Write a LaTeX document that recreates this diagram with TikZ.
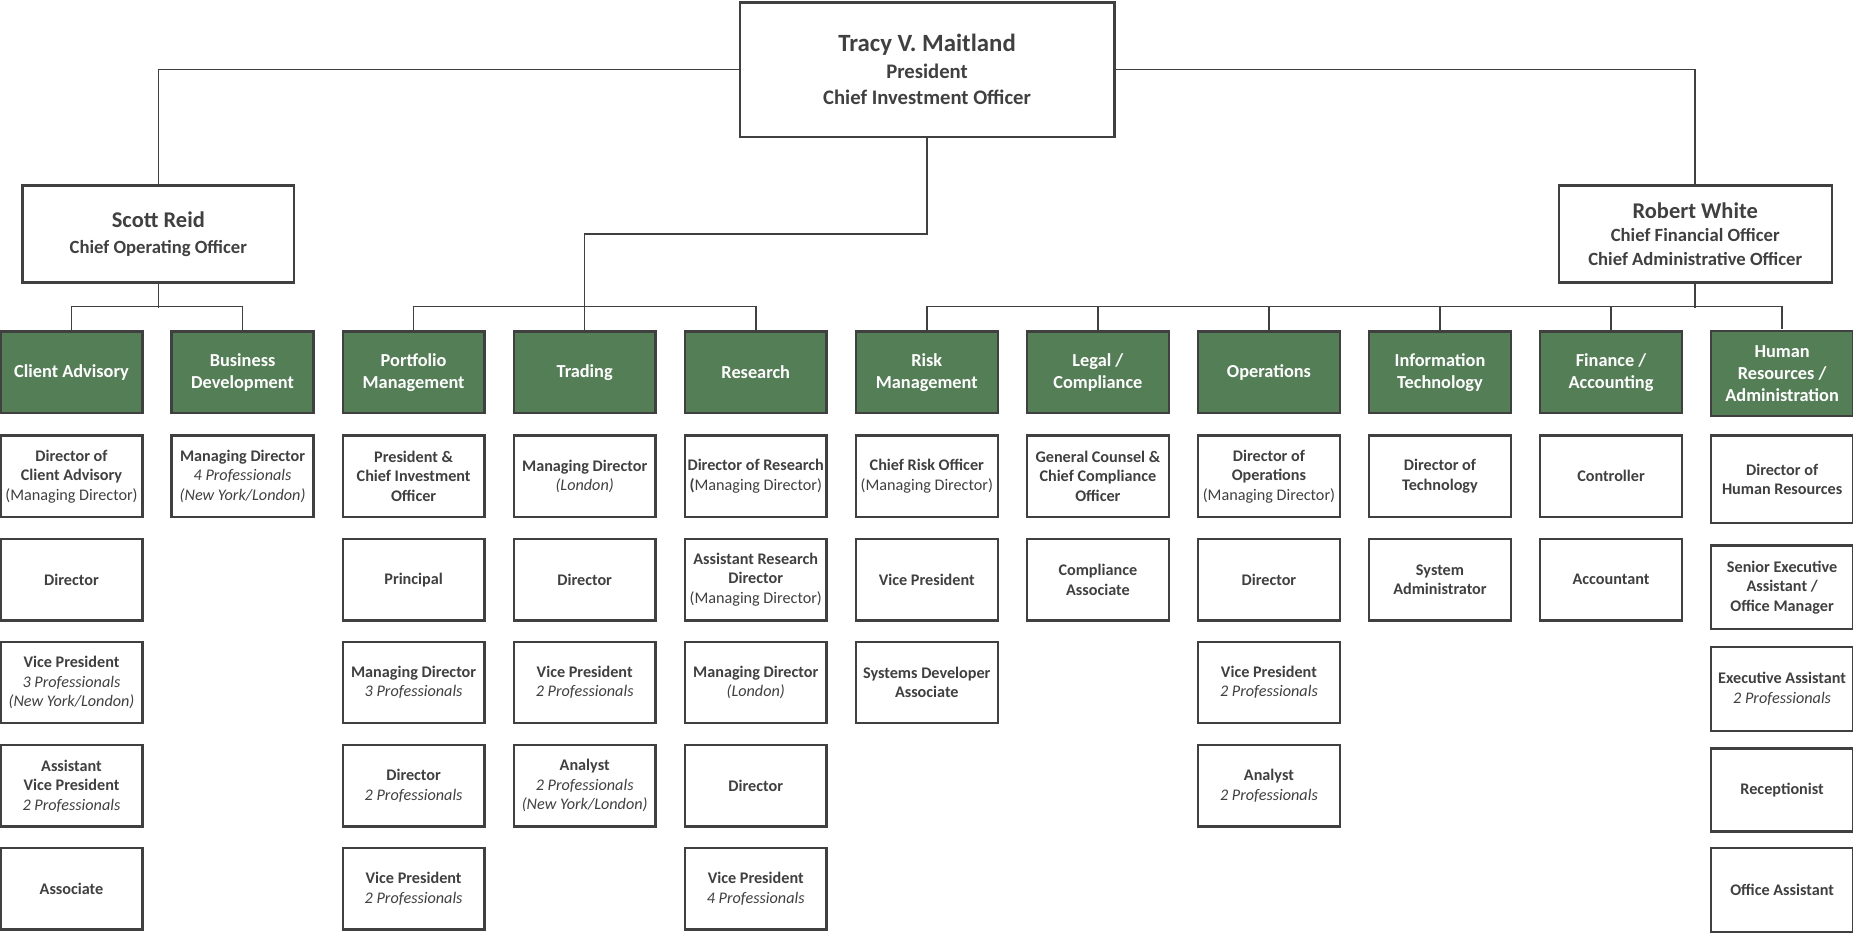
\documentclass[tikz,border=0pt]{standalone}
\usepackage{fontspec}
\setmainfont{Carlito}
\definecolor{ink}{HTML}{404040}
\definecolor{grn}{HTML}{547E55}
\newcommand{\profl}[1]{{\mdseries\itshape #1}}
\newcommand{\regl}[1]{{\mdseries #1}}
\tikzset{
  conn/.style={draw=ink, line width=1.3pt},
  execbox/.style={draw=ink, line width=2pt, fill=white, text=ink, align=center, inner sep=0pt},
  dept/.style={draw=ink, line width=2pt, fill=grn, text=white, align=center, minimum width=120pt, minimum height=69pt, inner sep=0pt, font=\fontsize{15.5}{18.5}\selectfont\bfseries},
  posbox/.style={draw=ink, line width=2pt, fill=white, text=ink, align=center, minimum width=120pt, minimum height=69pt, inner sep=0pt, font=\fontsize{13.7}{16.5}\selectfont\bfseries},
}
\begin{document}
\begin{tikzpicture}[x=1pt,y=-1pt]
\useasboundingbox (0,0) rectangle (1568,790);
\fill[white] (0,0) rectangle (1568,790);

% executives
\node[execbox, minimum width=317pt, minimum height=114pt, font=\fontsize{17.5}{22.5}\selectfont\bfseries] (tracy) at (784.5,59)
  {{\fontsize{21}{22.5}\selectfont Tracy V. Maitland}\\President\\Chief Investment Officer};
\node[execbox, minimum width=230pt, minimum height=82pt, font=\fontsize{15.8}{22}\selectfont\bfseries] (scott) at (134,198)
  {{\fontsize{19}{22}\selectfont Scott Reid}\\Chief Operating Officer};
\node[execbox, minimum width=231pt, minimum height=82pt, font=\fontsize{15.8}{20}\selectfont\bfseries] (robert) at (1434.5,198)
  {{\fontsize{19}{20}\selectfont Robert White}\\Chief Financial Officer\\Chief Administrative Officer};

% departments
\node[dept] (ca)  at (60.5,315)   {Client Advisory};
\node[dept] (bd)  at (205.25,315) {Business\\Development};
\node[dept] (pm)  at (350,315)    {Portfolio\\Management};
\node[dept] (tr)  at (494.75,315) {Trading};
\node[dept] (re)  at (639.5,315)  {Research};
\node[dept] (rm)  at (784.25,315) {Risk\\Management};
\node[dept] (lc)  at (929,315)    {Legal /\\Compliance};
\node[dept] (op)  at (1073.75,315){Operations};
\node[dept] (it)  at (1218.5,315) {Information\\Technology};
\node[dept] (fa)  at (1363.25,315){Finance /\\Accounting};
\node[dept, minimum height=72pt] (hr) at (1508,316) {Human\\Resources /\\Administration};

% connectors
\draw[conn] (tracy.west) -| (scott.north);
\draw[conn] (tracy.east) -| (robert.north);
\coordinate (tbend) at (784.5,198);
\draw[conn] (tracy.south) -- (tbend) -| (tr.north);
\draw[conn] (scott.south) -- ++(0,21);
\draw[conn] (ca.north) -- ++(0,-20) -| (bd.north);
\draw[conn] (pm.north) -- ++(0,-20) -| (re.north);
\draw[conn] (robert.south) -- ++(0,21);
\draw[conn] (rm.north) -- ++(0,-20) -| ([yshift=1pt]hr.north);
\draw[conn] (lc.north) -- ++(0,-20);
\draw[conn] (op.north) -- ++(0,-20);
\draw[conn] (it.north) -- ++(0,-20);
\draw[conn] (fa.north) -- ++(0,-20);

% Client Advisory
\node[posbox] (ca1) at (60.5,403)   {Director of\\Client Advisory\\\regl{(Managing Director)}};
\node[posbox] (ca2) at (60.5,490.5) {Director};
\node[posbox] (ca3) at (60.5,577.5) {Vice President\\\profl{3 Professionals}\\\profl{(New York/London)}};
\node[posbox] (ca4) at (60.5,665)   {Assistant\\Vice President\\\profl{2 Professionals}};
\node[posbox] (ca5) at (60.5,752)   {Associate};
% Business Development
\node[posbox] (bd1) at (205.25,403) {Managing Director\\\profl{4 Professionals}\\\profl{(New York/London)}};
% Portfolio Management
\node[posbox] (pm1) at (350,403)   {President \&\\Chief Investment\\Officer};
\node[posbox] (pm2) at (350,490.5) {Principal};
\node[posbox] (pm3) at (350,577.5) {Managing Director\\\profl{3 Professionals}};
\node[posbox] (pm4) at (350,665)   {Director\\\profl{2 Professionals}};
\node[posbox] (pm5) at (350,752)   {Vice President\\\profl{2 Professionals}};
% Trading
\node[posbox] (tr1) at (494.75,403)   {Managing Director\\\profl{(London)}};
\node[posbox] (tr2) at (494.75,490.5) {Director};
\node[posbox] (tr3) at (494.75,577.5) {Vice President\\\profl{2 Professionals}};
\node[posbox] (tr4) at (494.75,665)   {Analyst\\\profl{2 Professionals}\\\profl{(New York/London)}};
% Research
\node[posbox] (re1) at (639.5,403)   {Director of Research\\(\regl{Managing Director)}};
\node[posbox] (re2) at (639.5,490.5) {Assistant Research\\Director\\\regl{(Managing Director)}};
\node[posbox] (re3) at (639.5,577.5) {Managing Director\\\profl{(London)}};
\node[posbox] (re4) at (639.5,665)   {Director};
\node[posbox] (re5) at (639.5,752)   {Vice President\\\profl{4 Professionals}};
% Risk Management
\node[posbox] (rm1) at (784.25,403)   {Chief Risk Officer\\\regl{(Managing Director)}};
\node[posbox] (rm2) at (784.25,490.5) {Vice President};
\node[posbox] (rm3) at (784.25,577.5) {Systems Developer\\Associate};
% Legal / Compliance
\node[posbox] (lc1) at (929,403)   {General Counsel \&\\Chief Compliance\\Officer};
\node[posbox] (lc2) at (929,490.5) {Compliance\\Associate};
% Operations
\node[posbox] (op1) at (1073.75,403)   {Director of\\Operations\\\regl{(Managing Director)}};
\node[posbox] (op2) at (1073.75,490.5) {Director};
\node[posbox] (op3) at (1073.75,577.5) {Vice President\\\profl{2 Professionals}};
\node[posbox] (op4) at (1073.75,665)   {Analyst\\\profl{2 Professionals}};
% Information Technology
\node[posbox] (it1) at (1218.5,403)   {Director of\\Technology};
\node[posbox] (it2) at (1218.5,490.5) {System\\Administrator};
% Finance / Accounting
\node[posbox] (fa1) at (1363.25,403)   {Controller};
\node[posbox] (fa2) at (1363.25,490.5) {Accountant};
% Human Resources / Administration
\node[posbox, minimum height=74pt] (hr1) at (1508,405.5) {Director of\\Human Resources};
\node[posbox, minimum height=71pt] (hr2) at (1508,497)   {Senior Executive\\Assistant /\\Office Manager};
\node[posbox, minimum height=71pt] (hr3) at (1508,583)   {Executive Assistant\\\profl{2 Professionals}};
\node[posbox, minimum height=70pt] (hr4) at (1508,668.5) {Receptionist};
\node[posbox, minimum height=71pt] (hr5) at (1508,753)   {Office Assistant};
\end{tikzpicture}
\end{document}
